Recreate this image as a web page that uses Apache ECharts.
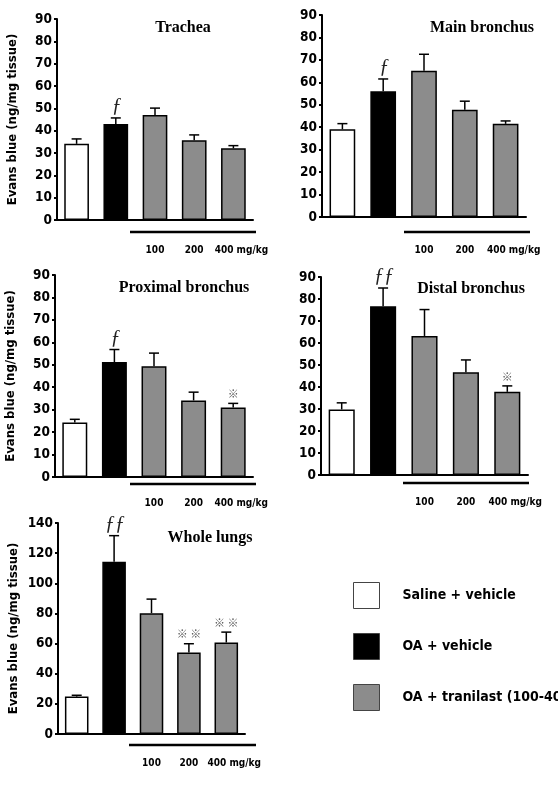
<!DOCTYPE html>
<html>
<head>
<meta charset="utf-8">
<script src="https://cdn.jsdelivr.net/npm/echarts@6/dist/echarts.min.js"></script>
<style>
html,body{margin:0;padding:0;background:#fff}
#main{width:558px;height:785px}
</style>
</head>
<body>
<div id="main"></div>
<script>
// 数据
var doseLabels = ['', '', '100', '200', '400 mg/kg'];
var groupNames = ['Saline + vehicle', 'OA + vehicle', 'OA + tranilast (100-400 mg/kg)'];
var panelTitles = ['Trachea', 'Main bronchus', 'Proximal bronchus', 'Distal bronchus', 'Whole lungs'];

var tracheaMean = [34.1, 43.0, 47.0, 35.7, 32.1];
var tracheaSem = [2.2, 2.7, 3.1, 2.4, 1.2];
var tracheaMarks = ['', 'ƒ', '', '', ''];

var mainMean = [39.1, 56.0, 65.2, 47.8, 41.5];
var mainSem = [2.5, 5.5, 7.3, 3.8, 1.3];
var mainMarks = ['', 'ƒ', '', '', ''];

var proximalMean = [24.3, 51.2, 49.3, 34.1, 31.0];
var proximalSem = [1.4, 5.6, 5.9, 3.7, 1.8];
var proximalMarks = ['', 'ƒ', '', '', '※'];

var distalMean = [29.8, 76.7, 63.2, 46.7, 37.8];
var distalSem = [3.0, 8.3, 12.0, 5.6, 2.7];
var distalMarks = ['', 'ƒƒ', '', '', '※'];

var lungsMean = [24.8, 114.3, 80.2, 54.1, 60.7];
var lungsSem = [0.9, 17.3, 9.3, 5.8, 6.9];
var lungsMarks = ['', 'ƒƒ', '', '※ ※', '※ ※'];

var panelMeans = [tracheaMean, mainMean, proximalMean, distalMean, lungsMean];
var panelSems = [tracheaSem, mainSem, proximalSem, distalSem, lungsSem];
var panelMarks = [tracheaMarks, mainMarks, proximalMarks, distalMarks, lungsMarks];
var yMaxs = [90, 90, 90, 90, 140];
var yIntervals = [10, 10, 10, 10, 20];

// 布局
var layout = [
	{left: 57, top: 19, width: 196, height: 201, yName: true, margin: 25, line: [130, 256, 232], title: [183, 28]},
	{left: 322, top: 15, width: 204, height: 202, yName: false, margin: 28, line: [404, 530, 232], title: [482, 28]},
	{left: 55, top: 275, width: 198, height: 202, yName: true, margin: 21, line: [130, 256, 484], title: [184, 288]},
	{left: 321, top: 277, width: 207, height: 198, yName: false, margin: 22, line: [403, 529, 483], title: [471, 289]},
	{left: 58, top: 523, width: 187, height: 211, yName: true, margin: 24, line: [129, 256, 745], title: [210, 538]}
];
var fills = ['#ffffff', '#000000', '#8c8c8c'];
var sansBold = '"DejaVu Sans Condensed", "DejaVu Sans", sans-serif';

var grids = [], xAxes = [], yAxes = [], series = [], graphics = [];

function pick(arr, idxs) {
	return arr.map(function (v, i) { return idxs.indexOf(i) >= 0 ? v : '-'; });
}

layout.forEach(function (p, k) {
	grids.push({left: p.left, top: p.top, width: p.width, height: p.height,
		containLabel: false, outerBoundsMode: 'none'});
	xAxes.push({
		type: 'category', gridIndex: k,
		data: doseLabels.map(function (d, i) {
			return i === 4 ? {value: d, textStyle: {padding: [0, 0, 0, 16]}} : d;
		}),
		axisLine: {show: true, lineStyle: {color: '#000', width: 2}},
		axisTick: {show: false},
		axisLabel: {interval: 0, margin: p.margin, color: '#000', fontWeight: 'bold',
			fontSize: 10, fontFamily: sansBold}
	});
	yAxes.push({
		type: 'value', gridIndex: k, min: 0, max: yMaxs[k], interval: yIntervals[k],
		name: p.yName ? 'Evans blue (ng/mg tissue)' : '',
		nameLocation: 'middle', nameGap: 38, nameRotate: 90,
		nameTextStyle: {color: '#000', fontWeight: 'bold', fontSize: 13, fontFamily: sansBold},
		axisLine: {show: true, lineStyle: {color: '#000', width: 2}},
		axisTick: {show: true, length: 3, lineStyle: {color: '#000', width: 2}},
		axisLabel: {margin: 5, color: '#000', fontWeight: 'bold', fontSize: 13.5, fontFamily: sansBold},
		splitLine: {show: false}
	});
	var means = panelMeans[k];
	var groupIdx = [[0], [1], [2, 3, 4]];
	groupIdx.forEach(function (idxs, g) {
		series.push({
			type: 'bar', name: groupNames[g], xAxisIndex: k, yAxisIndex: k,
			data: pick(means, idxs), barWidth: '63%', barGap: '-100%',
			itemStyle: {color: fills[g], borderColor: '#000', borderWidth: 1.5},
			emphasis: {disabled: true}
		});
	});
	var sems = panelSems[k], marks = panelMarks[k];
	series.push({
		type: 'custom', xAxisIndex: k, yAxisIndex: k, z: 5,
		data: means.map(function (m, i) { return [i, m, m + sems[i]]; }),
		encode: {x: 0, y: [1, 2]},
		renderItem: function (params, api) {
			var base = api.coord([api.value(0), api.value(1)]);
			var top = api.coord([api.value(0), api.value(2)]);
			var st = {stroke: '#000', lineWidth: 1.5};
			var children = [
				{type: 'line', shape: {x1: base[0], y1: base[1], x2: top[0], y2: top[1]}, style: st},
				{type: 'line', shape: {x1: top[0] - 5, y1: top[1], x2: top[0] + 5, y2: top[1]}, style: st}
			];
			var m = marks[params.dataIndex];
			if (m) {
				var isF = m.indexOf('ƒ') >= 0;
				children.push({
					type: 'text', x: top[0] + (isF ? 1 : 0), y: top[1] - (isF ? 1 : 4),
					style: {text: m, align: 'center', verticalAlign: 'bottom',
						font: isF ? 'italic 20px "Liberation Serif"' : '11px "Noto Sans CJK SC"',
						fill: isF ? '#222' : '#555'}
				});
			}
			return {type: 'group', children: children};
		}
	});
	graphics.push({
		type: 'line', shape: {x1: p.line[0], y1: p.line[2], x2: p.line[1], y2: p.line[2]},
		style: {stroke: '#000', lineWidth: 2.5}
	});
	graphics.push({
		type: 'text', x: p.title[0], y: p.title[1],
		style: {text: panelTitles[k], align: 'center', verticalAlign: 'middle',
			font: 'bold 16px "Liberation Serif"', fill: '#000'}
	});
});

var myChart = echarts.init(document.getElementById('main'));
myChart.setOption({
	backgroundColor: '#fff',
	animation: false,
	grid: grids,
	xAxis: xAxes,
	yAxis: yAxes,
	legend: {
		data: groupNames, orient: 'vertical', left: 353, top: 582, padding: 0,
		icon: 'rect', itemWidth: 26, itemHeight: 26, itemGap: 24,
		selectedMode: false,
		itemStyle: {borderColor: '#444', borderWidth: 1},
		formatter: function (name) { return '{t|' + name + '}'; },
		textStyle: {rich: {t: {padding: [0, 0, 0, 18], color: '#000', fontWeight: 'bold',
			fontSize: 14, fontFamily: sansBold}}}
	},
	series: series,
	graphic: graphics
});
</script>
</body>
</html>
